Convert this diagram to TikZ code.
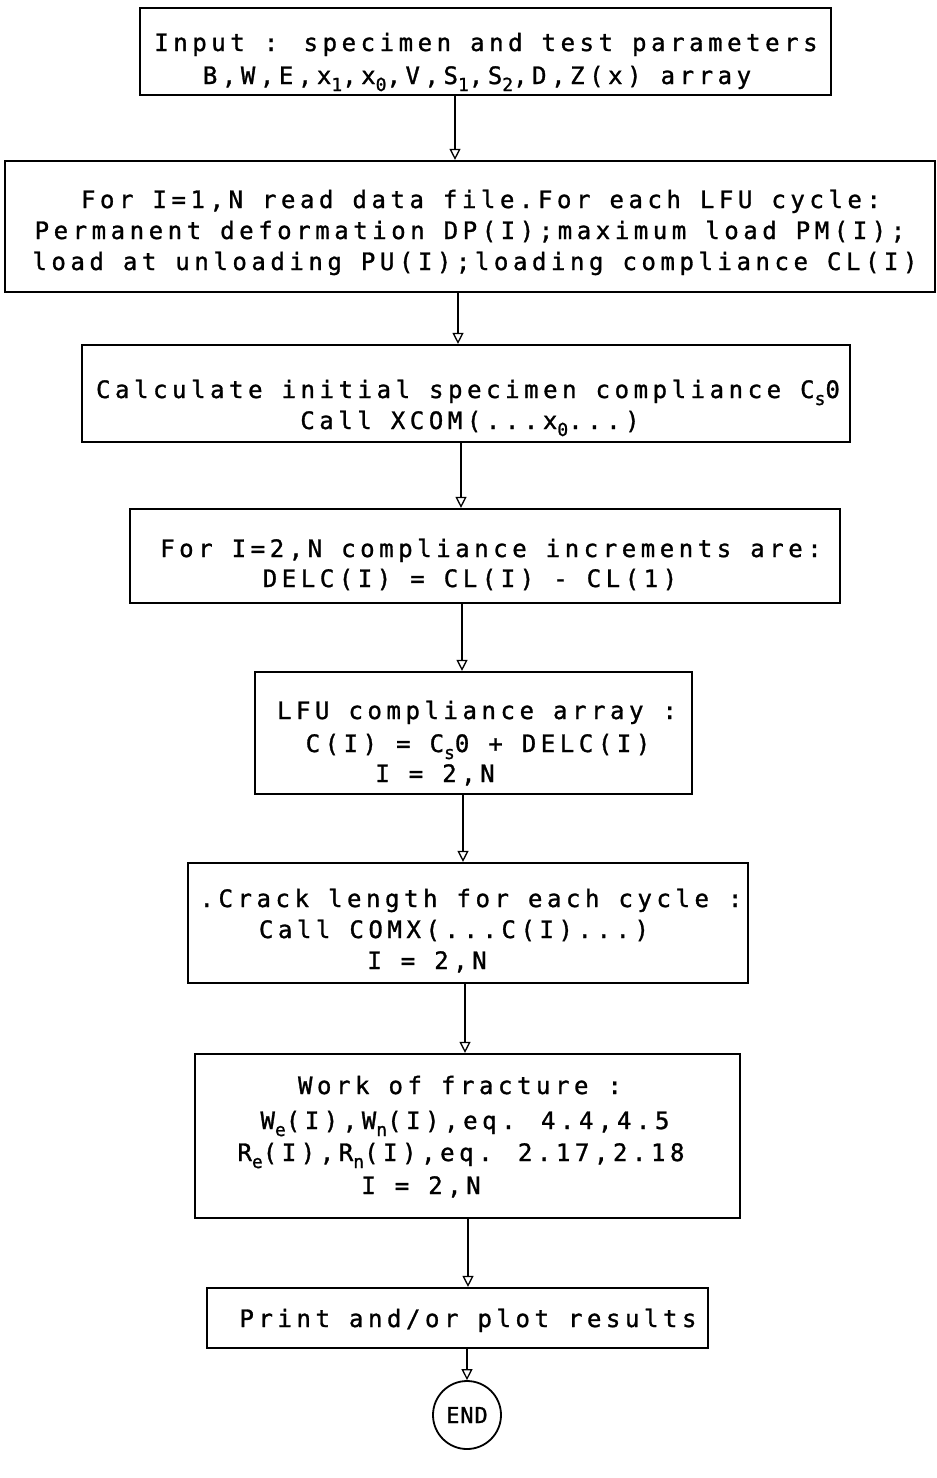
\documentclass[tikz,border=0pt]{standalone}
\usepackage{fontspec}
\usetikzlibrary{arrows.meta,fit}
\newfontfamily\plotfont[LetterSpace=19,FakeBold=1.2]{DejaVu Sans Mono}
\newfontfamily\circfont[LetterSpace=4,FakeBold=1.2]{DejaVu Sans Mono}
\newcommand\sbs[1]{\raisebox{-7pt}{\fontsize{18}{18}\selectfont #1}}
\begin{document}
\begin{tikzpicture}[x=1pt,y=-1pt,
  box/.style={draw, line width=2.2pt, inner sep=0pt},
  txt/.style={font=\plotfont\fontsize{24}{28}\selectfont, inner sep=0pt, anchor=base},
  flow/.style={line width=1.3pt, -{Triangle[open,width=11pt,length=11pt]}},
  endnode/.style={draw, circle, line width=1.8pt, minimum size=68pt, inner sep=0pt,
    font=\circfont\fontsize{22}{26}\selectfont}
]
\useasboundingbox (0,0) rectangle (937,1478);
\fill[white] (0,0) rectangle (937,1478);

% boxes
\node[box, fit={(140,8) (831,95)}] (b1) {};
\node[box, fit={(5,161) (935,292)}] (b2) {};
\node[box, fit={(82,345) (850,442)}] (b3) {};
\node[box, fit={(130,509) (840,603)}] (b4) {};
\node[box, fit={(255,672) (692,794)}] (b5) {};
\node[box, fit={(188,863) (748,983)}] (b6) {};
\node[box, fit={(195,1054) (740,1218)}] (b7) {};
\node[box, fit={(207,1288) (708,1348)}] (b8) {};
\node[endnode] (end) at (467,1415) {END};

% texts
\node[txt] (t1a) at (486,51) {Input : specimen and test parameters};
\node[txt] (t1b) at (477,84) {B,W,E,x\sbs{1},x\sbs{0},V,S\sbs{1},S\sbs{2},D,Z(x) array};

\node[txt] (t2a) at (481,208) {For I=1,N read data file.For each LFU cycle:};
\node[txt] (t2b) at (470,239) {Permanent deformation DP(I);maximum load PM(I);};
\node[txt] (t2c) at (475,270) {load at unloading PU(I);loading compliance CL(I)};

\node[txt] (t3a) at (468,398) {Calculate initial specimen compliance C\sbs{s}0};
\node[txt] (t3b) at (470,429) {Call XCOM(...x\sbs{0}...)};

\node[txt] (t4a) at (491,557) {For I=2,N compliance increments are:};
\node[txt] (t4b) at (470,587) {DELC(I) = CL(I) - CL(1)};

\node[txt] (t5a) at (477,719) {LFU compliance array :};
\node[txt] (t5b) at (478,752) {C(I) = C\sbs{s}0 + DELC(I)};
\node[txt] (t5c) at (435,782) {I = 2,N};

\node[txt] (t6a) at (471,907) {.Crack length for each cycle :};
\node[txt] (t6b) at (454,938) {Call COMX(...C(I)...)};
\node[txt] (t6c) at (427,969) {I = 2,N};

\node[txt] (t7a) at (460,1094) {Work of fracture :};
\node[txt] (t7b) at (465,1129) {W\sbs{e}(I),W\sbs{n}(I),eq. 4.4,4.5};
\node[txt] (t7c) at (461,1161) {R\sbs{e}(I),R\sbs{n}(I),eq. 2.17,2.18};
\node[txt] (t7d) at (421,1194) {I = 2,N};

\node[txt] (t8a) at (468,1327) {Print and/or plot results};

% connector columns
\coordinate (c1) at (455,0);
\coordinate (c2) at (458,0);
\coordinate (c3) at (461,0);
\coordinate (c4) at (462,0);
\coordinate (c5) at (463,0);
\coordinate (c6) at (465,0);
\coordinate (c7) at (468,0);
\coordinate (c8) at (467,0);

% connectors
\draw[flow] (c1 |- b1.south) -- (c1 |- b2.north);
\draw[flow] (c2 |- b2.south) -- (c2 |- b3.north);
\draw[flow] (c3 |- b3.south) -- (c3 |- b4.north);
\draw[flow] (c4 |- b4.south) -- (c4 |- b5.north);
\draw[flow] (c5 |- b5.south) -- (c5 |- b6.north);
\draw[flow] (c6 |- b6.south) -- (c6 |- b7.north);
\draw[flow] (c7 |- b7.south) -- (c7 |- b8.north);
\draw[flow] (c8 |- b8.south) -- (end.north);
\end{tikzpicture}
\end{document}
